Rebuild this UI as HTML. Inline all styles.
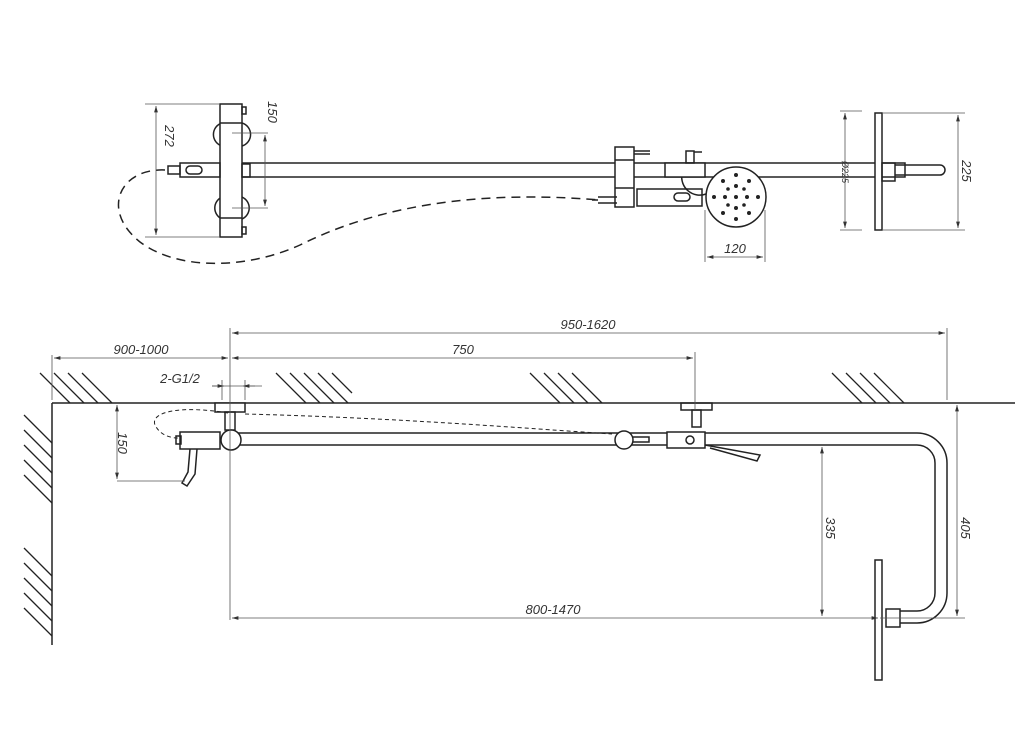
<!DOCTYPE html>
<html><head><style>body{margin:0;background:#fff}svg{display:block}text{font-family:"Liberation Sans",sans-serif;font-style:italic;font-size:13px;fill:#333}</style></head><body>
<svg width="1032" height="730" viewBox="0 0 1032 730" xmlns="http://www.w3.org/2000/svg">
<defs><marker id="a" viewBox="0 0 10 10" refX="10" refY="5" markerWidth="8" markerHeight="8" orient="auto-start-reverse"><path d="M0 2L10 5L0 8z" fill="#333"/></marker></defs>
<g fill="none" stroke="#222" stroke-width="1.5">
<!-- TOP VIEW -->
<rect x="240" y="163" width="665" height="14" fill="#fff"/>
<path d="M222 123 a12 12 0 0 0 0 23 M242 123 a12 12 0 0 1 0 23 M222 197 a12 12 0 0 0 0 22 M242 197 a12 12 0 0 1 0 22"/>
<rect x="220" y="104" width="22" height="133" fill="#fff"/>
<line x1="220" y1="123" x2="242" y2="123"/><line x1="220" y1="218" x2="242" y2="218"/>
<rect x="242" y="107" width="4" height="7"/><rect x="242" y="227" width="4" height="7"/>
<rect x="180" y="163" width="40" height="14"/><rect x="186" y="166" width="16" height="8" rx="4"/>
<rect x="168" y="166" width="12" height="8"/>
<rect x="242" y="164" width="8" height="13"/>
<path d="M165 170 C 120 168, 100 210, 140 242 C 180 272, 250 268, 300 245 C 380 205, 480 190, 600 200" stroke-dasharray="9 6"/>
<rect x="615" y="147" width="19" height="60" fill="#fff"/>
<line x1="615" y1="160" x2="634" y2="160"/><line x1="615" y1="188" x2="634" y2="188"/>
<line x1="634" y1="151" x2="650" y2="151"/><line x1="634" y1="154" x2="650" y2="154"/>
<path d="M598 197 L617 197 M598 203 L617 203 M592 200 L598 200"/>
<rect x="637" y="189" width="65" height="17" fill="#fff"/><rect x="674" y="193" width="16" height="8" rx="4"/>
<path d="M682 174 a18 18 0 0 0 24 20"/>
<rect x="665" y="163" width="40" height="14" fill="#fff"/>
<rect x="686" y="151" width="8" height="12"/><path d="M694 152 h8"/>
<circle cx="736" cy="197" r="30" fill="#fff"/>
<rect x="875" y="113" width="7" height="117" fill="#fff"/>
<rect x="882" y="163" width="13" height="18"/>
<path d="M895 165 h45 a5 5 0 0 1 0 10 h-45"/>
<!-- BOTTOM VIEW -->
<line x1="52" y1="403" x2="1015" y2="403"/><line x1="52" y1="403" x2="52" y2="645"/>
<path d="M232 433 H905 A30 30 0 0 1 935 463 V583 A30 30 0 0 1 905 613 H900 M232 445 H905 A18 18 0 0 1 923 463 V583 A18 18 0 0 1 905 601" stroke="none"/>
<path d="M232 433 H917 A30 30 0 0 1 947 463 V593 A30 30 0 0 1 917 623 H900 M232 445 H917 A18 18 0 0 1 935 463 V593 A18 18 0 0 1 917 611 H900"/>
<rect x="886" y="609" width="14" height="18" fill="#fff"/>
<path d="M875 560 h7 v120 h-7z" fill="#fff"/>
<rect x="215" y="403" width="30" height="9" fill="#fff"/><rect x="225" y="412" width="10" height="18"/>
<rect x="180" y="432" width="40" height="17" fill="#fff"/><rect x="176" y="436" width="5" height="8"/>
<circle cx="231" cy="440" r="10" fill="#fff"/>
<path d="M190 449 L188 472 L182 483 L187 486 L195 474 L197 449"/>
<path d="M228 413 C 180 405, 150 412, 155 425 C 160 435, 170 438, 178 438 M245 414 C 400 418, 520 428, 612 434" stroke-dasharray="4 3" stroke-width="1"/>
<circle cx="624" cy="440" r="9" fill="#fff"/><path d="M633 437 h16 v5 h-16"/>
<rect x="667" y="432" width="38" height="16" fill="#fff"/><circle cx="690" cy="440" r="4"/>
<rect x="681" y="403" width="31" height="7"/><rect x="692" y="410" width="9" height="17"/>
<path d="M705 445 L760 455 L757 461 L710 448"/>
<!-- hatches -->
<g stroke-width="1.3">
<path d="M40 373 l30 30 M54 373 l30 30 M68 373 l30 30 M82 373 l30 30"/>
<path d="M276 373 l30 30 M290 373 l30 30 M304 373 l30 30 M318 373 l30 30 M332 373 l20 20"/>
<path d="M530 373 l30 30 M544 373 l30 30 M558 373 l30 30 M572 373 l30 30"/>
<path d="M832 373 l30 30 M846 373 l30 30 M860 373 l30 30 M874 373 l30 30"/>
<path d="M24 415 l28 28 M24 430 l28 28 M24 445 l28 28 M24 460 l28 28 M24 475 l28 28"/>
<path d="M24 548 l28 28 M24 563 l28 28 M24 578 l28 28 M24 593 l28 28 M24 608 l28 28"/>
</g>
</g>
<g fill="#222">
<circle cx="723" cy="181" r="2"/><circle cx="749" cy="181" r="2"/><circle cx="723" cy="213" r="2"/><circle cx="749" cy="213" r="2"/>
<circle cx="736" cy="175" r="2"/><circle cx="736" cy="219" r="2"/><circle cx="714" cy="197" r="2"/><circle cx="758" cy="197" r="2"/>
<circle cx="736" cy="186" r="2"/><circle cx="736" cy="208" r="2"/><circle cx="725" cy="197" r="2"/><circle cx="747" cy="197" r="2"/>
<circle cx="728" cy="189" r="1.8"/><circle cx="744" cy="189" r="1.8"/><circle cx="728" cy="205" r="1.8"/><circle cx="744" cy="205" r="1.8"/>
<circle cx="736" cy="197" r="2"/>
</g>
<!-- dimensions -->
<g stroke="#555" stroke-width="0.8" fill="none">
<path d="M145 104 H220 M145 237 H220 M232 133 H268 M232 208 H268 M705 210 V262 M765 210 V262 M862 111 H840 M862 230 H840 M882 113 H965 M882 230 H965"/>
<path d="M230 328 V620 M52 355 V400 M695 352 V410 M947 328 V400 M117 481 H185 M222 380 V400 M245 380 V400 M880 618 H965"/>
<line x1="156" y1="106" x2="156" y2="235" marker-start="url(#a)" marker-end="url(#a)"/>
<line x1="265" y1="135" x2="265" y2="206" marker-start="url(#a)" marker-end="url(#a)"/>
<line x1="707" y1="257" x2="763" y2="257" marker-start="url(#a)" marker-end="url(#a)"/>
<line x1="845" y1="113" x2="845" y2="228" marker-start="url(#a)" marker-end="url(#a)"/>
<line x1="958" y1="115" x2="958" y2="228" marker-start="url(#a)" marker-end="url(#a)"/>
<line x1="232" y1="333" x2="945" y2="333" marker-start="url(#a)" marker-end="url(#a)"/>
<line x1="54" y1="358" x2="228" y2="358" marker-start="url(#a)" marker-end="url(#a)"/>
<line x1="232" y1="358" x2="693" y2="358" marker-start="url(#a)" marker-end="url(#a)"/>
<path d="M212 386 H262"/><line x1="212" y1="386" x2="224" y2="386" marker-end="url(#a)"/><line x1="255" y1="386" x2="243" y2="386" marker-end="url(#a)"/>
<line x1="117" y1="405" x2="117" y2="479" marker-start="url(#a)" marker-end="url(#a)"/>
<line x1="822" y1="447" x2="822" y2="616" marker-start="url(#a)" marker-end="url(#a)"/>
<line x1="957" y1="405" x2="957" y2="616" marker-start="url(#a)" marker-end="url(#a)"/>
<line x1="232" y1="618" x2="878" y2="618" marker-start="url(#a)" marker-end="url(#a)"/>
</g>
<text transform="translate(165,136) rotate(90)" text-anchor="middle">272</text>
<text transform="translate(268,112) rotate(90)" text-anchor="middle">150</text>
<text x="735" y="253" text-anchor="middle">120</text>
<text transform="translate(842,172) rotate(90)" text-anchor="middle" style="font-size:9px">Ø225</text>
<text transform="translate(962,171) rotate(90)" text-anchor="middle">225</text>
<text x="588" y="329" text-anchor="middle">950-1620</text>
<text x="141" y="354" text-anchor="middle">900-1000</text>
<text x="463" y="354" text-anchor="middle">750</text>
<text x="180" y="383" text-anchor="middle">2-G1/2</text>
<text transform="translate(118,443) rotate(90)" text-anchor="middle">150</text>
<text transform="translate(826,528) rotate(90)" text-anchor="middle">335</text>
<text transform="translate(961,528) rotate(90)" text-anchor="middle">405</text>
<text x="553" y="614" text-anchor="middle">800-1470</text>
</svg>
</body></html>
